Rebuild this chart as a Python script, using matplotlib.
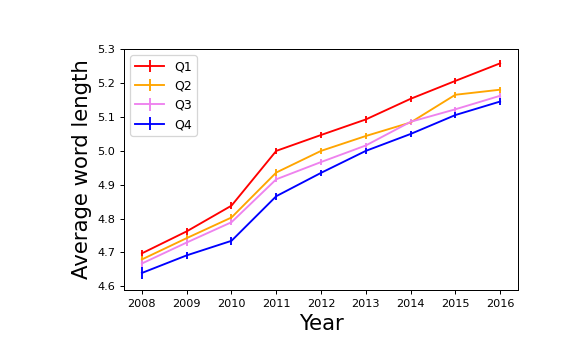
import matplotlib
matplotlib.use("Agg")
import matplotlib.pyplot as plt

years = [2008, 2009, 2010, 2011, 2012, 2013, 2014, 2015, 2016]
q1 = [4.697, 4.762, 4.838, 5.000, 5.047, 5.093, 5.154, 5.207, 5.259]
q2 = [4.679, 4.742, 4.803, 4.936, 5.000, 5.044, 5.084, 5.166, 5.181]
q3 = [4.667, 4.729, 4.789, 4.916, 4.967, 5.016, 5.086, 5.123, 5.163]
q4 = [4.639, 4.691, 4.734, 4.866, 4.935, 5.000, 5.050, 5.106, 5.146]
q1_err = [0.011, 0.010, 0.010, 0.010, 0.008, 0.010, 0.009, 0.009, 0.010]
q2_err = [0.010, 0.010, 0.010, 0.009, 0.008, 0.008, 0.008, 0.009, 0.009]
q3_err = [0.010, 0.009, 0.009, 0.009, 0.008, 0.008, 0.009, 0.008, 0.009]
q4_err = [0.018, 0.011, 0.011, 0.010, 0.009, 0.009, 0.009, 0.009, 0.011]

series = [("Q1", q1, q1_err, "red"), ("Q2", q2, q2_err, "orange"),
          ("Q3", q3, q3_err, "violet"), ("Q4", q4, q4_err, "blue")]

fig = plt.figure(figsize=(6.5, 3.967), dpi=90)
ax = fig.add_axes([0.212, 0.1877, 0.6735, 0.675])
for name, vals, err, c in series:
    ax.errorbar(years, vals, yerr=err, color=c, label=name)
ax.set_xticks(years)
ax.set_yticks([4.6, 4.7, 4.8, 4.9, 5.0, 5.1, 5.2, 5.3])
ax.tick_params(labelsize=9)
ax.set_xlabel("Year", fontsize=17)
ax.set_ylabel("Average word length", fontsize=17)
ax.legend(loc="upper left", fontsize=10, handlelength=2.3)
fig.savefig("out.png", dpi=90)
